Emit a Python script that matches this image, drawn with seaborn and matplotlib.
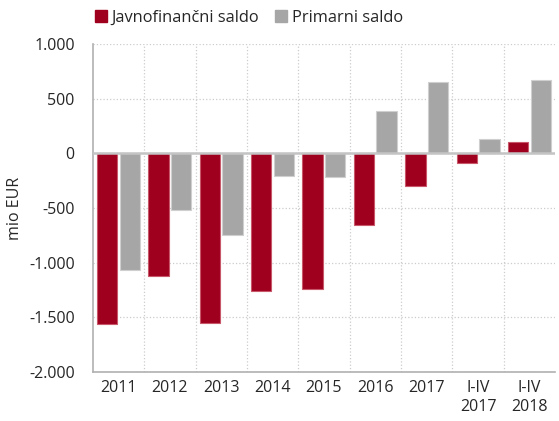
import numpy as np
import pandas as pd
import matplotlib.pyplot as plt
import matplotlib.ticker as mticker
import seaborn as sns

sns.set_style('white')
plt.rcParams['font.family'] = ['Open Sans', 'DejaVu Sans']

# data (mio EUR)
categories = ['2011', '2012', '2013', '2014', '2015', '2016', '2017', 'I-IV\n2017', 'I-IV\n2018']
javnofinancni = [-1560, -1125, -1555, -1260, -1245, -655, -300, -85, 100]
primarni = [-1070, -515, -750, -205, -215, 385, 650, 135, 675]
series = ['Javnofinančni saldo', 'Primarni saldo']

df = pd.DataFrame({
    'kat': categories * 2,
    'vrednost': javnofinancni + primarni,
    'serija': [series[0]] * len(categories) + [series[1]] * len(categories),
})

colors = ['#9e001e', '#a6a6a6']
edges = ['#c8576a', '#cfcfcf']

fig = plt.figure(figsize=(5.59, 4.21), dpi=100)
ax = fig.add_axes([0.166, 0.1164, 0.827, 0.779])

sns.barplot(data=df, x='kat', y='vrednost', hue='serija', palette=colors,
            width=0.88, gap=0.1, ax=ax, legend=False, saturation=1)

for i, cont in enumerate(ax.containers):
    for bar in cont:
        bar.set_edgecolor(edges[i])
        bar.set_linewidth(0.8)
        bar.set_zorder(3)

ax.set_ylim(-2000, 1000)
ax.set_xlim(-0.5, len(categories) - 0.5)
ax.yaxis.set_major_locator(mticker.MultipleLocator(500))
ax.yaxis.set_major_formatter(mticker.FuncFormatter(lambda v, p: f'{int(v):,}'.replace(',', '.')))
ax.set_xticks(range(len(categories)))
ax.set_xticks(np.arange(0.5, len(categories) - 0.5, 1), minor=True)
ax.tick_params(axis='x', which='minor', length=0)
ax.tick_params(axis='both', which='major', length=0, labelsize=11.5, pad=6)
ax.tick_params(axis='y', pad=13)

ax.grid(axis='y', which='major', ls=':', color='#cccccc', lw=0.9, zorder=0)
ax.grid(axis='x', which='minor', ls=':', color='#cccccc', lw=0.9, zorder=0)
ax.set_axisbelow(True)
ax.axhline(0, color='#c4c4c4', lw=1.8, zorder=4)

for s in ['top', 'right']:
    ax.spines[s].set_visible(False)
for s in ['left', 'bottom']:
    ax.spines[s].set_color('#b0b0b0')
    ax.spines[s].set_linewidth(1.2)

ax.set_xlabel('')
ax.set_ylabel('mio EUR', fontsize=11.5, labelpad=4)

handles = [plt.Rectangle((0, 0), 1, 1, color=c) for c in colors]
ax.legend(handles, series, ncol=2, frameon=False, loc='lower left',
          bbox_to_anchor=(-0.01, 1.035), fontsize=11.8, handlelength=0.75,
          handleheight=0.75, handletextpad=0.25, columnspacing=1.0, borderaxespad=0)

fig.savefig('out.png', dpi=100)
